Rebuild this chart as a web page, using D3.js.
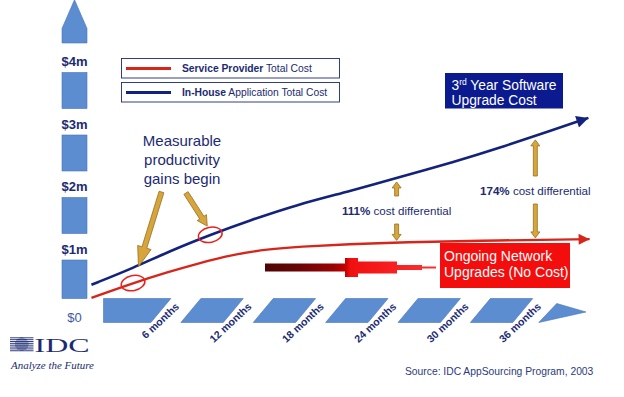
<!DOCTYPE html>
<html>
<head>
<meta charset="utf-8">
<script src="https://cdn.jsdelivr.net/npm/d3@7"></script>
<style>
  html, body { margin: 0; padding: 0; background: #fff; }
  svg { display: block; font-family: "Liberation Sans", Arial, sans-serif; }
</style>
</head>
<body>
<svg id="chart" width="624" height="397"></svg>
<script>
// ---- data ----
const monthTicks = [6, 12, 18, 24, 30, 36];
const costTicks = [0, 1, 2, 3, 4];
const costTickLabels = ["$0", "$1m", "$2m", "$3m", "$4m"];

// in-house application total cost ($m) by month
const inHouseMonths = [-1, 2.5, 5.5, 9, 12, 16, 20.5, 24.5, 29, 33, 37, 40.2];
const inHouseCost   = [0.42, 0.69, 0.96, 1.23, 1.44, 1.70, 1.92, 2.14, 2.38, 2.62, 2.88, 3.09];

// service provider total cost ($m) by month
const providerMonths = [-1, 2.5, 5.3, 8, 10.7, 13.6, 16.3, 20.4, 24.6, 32.9, 40.3];
const providerCost   = [0.21, 0.45, 0.62, 0.77, 0.90, 0.99, 1.03, 1.07, 1.10, 1.13, 1.15];

const legendNames = [["Service Provider", " Total Cost"], ["In-House", " Application Total Cost"]];
const diffMonths = [24.3, 35.8];
const diffLabels = ["111%", "174%"];
const gainMonths = [2.45, 8.85];   // circled points: provider, in-house

// ---- setup ----
const svg = d3.select("#chart");
const navy = "#1c2a72", blueLine = "#13237c", redLine = "#d6261c";
const axisFill = "#5b8dd0", axisStroke = "#4674b8";
const gold = "#d8a53c", goldDark = "#93701f";

const x = d3.scaleLinear().domain([0, 40]).range([103.5, 586]);
const y = d3.scaleLinear().domain([0, 4]).range([311, 61]);

const inHouse = inHouseMonths.map((m, i) => [m, inHouseCost[i]]);
const provider = providerMonths.map((m, i) => [m, providerCost[i]]);

function valueAt(series, m) {
  const i = d3.bisector(d => d[0]).right(series, m);
  const a = series[Math.max(0, i - 1)], b = series[Math.min(series.length - 1, i)];
  if (a === b) return a[1];
  return a[1] + (b[1] - a[1]) * (m - a[0]) / (b[0] - a[0]);
}

function blockArrow(x1, y1, x2, y2, sw, hw, hl) {
  const dx = x2 - x1, dy = y2 - y1, len = Math.hypot(dx, dy);
  const ux = dx / len, uy = dy / len, nx = -uy, ny = ux;
  const bx = x2 - ux * hl, by = y2 - uy * hl;
  return [
    [x1 + nx * sw, y1 + ny * sw], [bx + nx * sw, by + ny * sw], [bx + nx * hw, by + ny * hw],
    [x2, y2],
    [bx - nx * hw, by - ny * hw], [bx - nx * sw, by - ny * sw], [x1 - nx * sw, y1 - ny * sw]
  ];
}

const defs = svg.append("defs");
defs.append("marker").attr("id", "headBlue")
  .attr("viewBox", "0 0 10 10").attr("refX", 10).attr("refY", 5)
  .attr("markerUnits", "userSpaceOnUse").attr("markerWidth", 22).attr("markerHeight", 12)
  .attr("orient", "auto")
  .append("path").attr("d", "M0,0L10,5L0,10Z").attr("fill", blueLine);
defs.append("marker").attr("id", "headRed")
  .attr("viewBox", "0 0 10 10").attr("refX", 10).attr("refY", 5)
  .attr("markerUnits", "userSpaceOnUse").attr("markerWidth", 15).attr("markerHeight", 11)
  .attr("orient", "auto")
  .append("path").attr("d", "M0,0L10,5L0,10Z").attr("fill", redLine);
const grad = defs.append("linearGradient").attr("id", "fade")
  .attr("x1", 0).attr("x2", 1).attr("y1", 0).attr("y2", 0);
[[0, "#4e0505"], [0.2, "#6a0404"], [0.4, "#9a0202"], [0.47, "#c40000"], [0.5, "#f01010"], [1, "#ff3030"]]
  .forEach(([o, c]) => grad.append("stop").attr("offset", o).attr("stop-color", c));

// ---- y axis column ----
const colX0 = 62, colX1 = 87, barTop = 298.5, barBot = 322.5;
const yAxis = svg.append("g");
costTicks.slice(0, -1).forEach(v => {
  const top = y(v + 1) + 11.5, bot = v === 0 ? barTop : y(v) - 15;
  yAxis.append("rect").attr("x", colX0).attr("y", top).attr("width", colX1 - colX0)
    .attr("height", bot - top).attr("fill", axisFill).attr("stroke", axisStroke).attr("stroke-width", 0.6);
});
{
  const top = y(4.98), neck = y(4.52), bot = y(4) - 18;
  yAxis.append("path")
    .attr("d", `M${colX0},${bot}L${colX0},${neck}L${(colX0 + colX1) / 2},${top}L${colX1},${neck}L${colX1},${bot}Z`)
    .attr("fill", axisFill).attr("stroke", axisStroke).attr("stroke-width", 0.6);
}
yAxis.selectAll("text.ytick").data(costTicks).join("text")
  .attr("x", (colX0 + colX1) / 2)
  .attr("y", d => d === 0 ? y(d) + 11 : y(d) + 5)
  .attr("text-anchor", "middle")
  .attr("font-size", 13)
  .attr("font-weight", d => d === 0 ? "normal" : "bold")
  .attr("fill", d => d === 0 ? "#3d5aa6" : navy)
  .text((d, i) => costTickLabels[i]);

// ---- x axis segments ----
const gapHalf = 15, slant = 10;
const xAxis = svg.append("g");
const edges = [0].concat(monthTicks);
edges.slice(0, -1).forEach((m0, i) => {
  const m1 = edges[i + 1];
  const r = x(m1) - gapHalf;
  let pts;
  if (i === 0) {
    pts = [[x(m0), barTop], [r + slant, barTop], [r - slant, barBot], [x(m0), barBot]];
  } else {
    const l = x(m0) + gapHalf;
    pts = [[l + slant, barTop], [r + slant, barTop], [r - slant, barBot], [l - slant, barBot]];
  }
  xAxis.append("path").attr("d", "M" + pts.join("L") + "Z")
    .attr("fill", axisFill).attr("stroke", axisStroke).attr("stroke-width", 0.6);
});
{
  const a = x(36) + gapHalf;
  const pts = [[a - 14, barBot], [a + 4, barTop + 5], [x(40), barTop + 13.5]];
  xAxis.append("path").attr("d", "M" + pts.join("L") + "Z")
    .attr("fill", axisFill).attr("stroke", axisStroke).attr("stroke-width", 0.6);
}
xAxis.selectAll("text.xtick").data(monthTicks).join("text")
  .attr("transform", d => `translate(${x(d) + 4},${barTop + 9}) rotate(-43)`)
  .attr("text-anchor", "end")
  .attr("font-size", 10.5)
  .attr("font-weight", "bold")
  .attr("fill", navy)
  .text(d => d + " months");

// ---- cost lines ----
const line = d3.line().x(d => x(d[0])).y(d => y(d[1])).curve(d3.curveBasis);
svg.append("path").datum(inHouse).attr("d", line)
  .attr("fill", "none").attr("stroke", blueLine).attr("stroke-width", 2.6)
  .attr("marker-end", "url(#headBlue)");
svg.append("path").datum(provider).attr("d", line)
  .attr("fill", "none").attr("stroke", redLine).attr("stroke-width", 2.4)
  .attr("marker-end", "url(#headRed)");

// circled productivity points
[provider, inHouse].forEach((s, i) => {
  const m = gainMonths[i];
  svg.append("ellipse")
    .attr("transform", `translate(${x(m)},${y(valueAt(s, m))}) rotate(-12)`)
    .attr("rx", 12).attr("ry", 7.5)
    .attr("fill", "none").attr("stroke", "#e8221c").attr("stroke-width", 1.5);
});

// ---- legend ----
const legend = svg.append("g");
legendNames.forEach((nm, i) => {
  const top = 58.5 + i * 24;
  legend.append("rect").attr("x", 121.5).attr("y", top).attr("width", 218).attr("height", 19.5)
    .attr("fill", "#fff").attr("stroke", navy).attr("stroke-width", 0.9);
  legend.append("line").attr("x1", 126).attr("x2", 171).attr("y1", top + 10).attr("y2", top + 10)
    .attr("stroke", i === 0 ? redLine : blueLine).attr("stroke-width", 3);
  const t = legend.append("text").attr("x", 182).attr("y", top + 13.5)
    .attr("font-size", 10.3).attr("fill", navy);
  t.append("tspan").attr("font-weight", "bold").text(nm[0]);
  t.append("tspan").text(nm[1]);
});

// ---- "3rd Year Software Upgrade Cost" box ----
svg.append("rect").attr("x", 445).attr("y", 73).attr("width", 118).attr("height", 35.5).attr("fill", "#0b1a8e");
{
  const t = svg.append("text").attr("x", 451.5).attr("y", 90).attr("font-size", 13.8).attr("fill", "#fff");
  t.append("tspan").text("3");
  t.append("tspan").attr("font-size", 8.5).attr("dy", -5).text("rd");
  t.append("tspan").attr("dy", 5).text(" Year Software");
  svg.append("text").attr("x", 451.5).attr("y", 104.5).attr("font-size", 13.8).attr("fill", "#fff").text("Upgrade Cost");
}

// ---- "Measurable productivity gains begin" ----
svg.append("g").selectAll("text").data(["Measurable", "productivity", "gains begin"]).join("text")
  .attr("x", 182).attr("y", (d, i) => 145.5 + i * 19)
  .attr("text-anchor", "middle").attr("font-size", 15).attr("fill", navy).text(d => d);
{
  const m1 = 2.9, m2 = gainMonths[1] - 0.25;
  const a1 = blockArrow(161.5, 192, x(m1), y(valueAt(inHouse, m1)) + 1, 2.5, 7, 20);
  const a2 = blockArrow(186, 193, x(m2), y(valueAt(inHouse, m2)) - 10, 2.5, 5.5, 10);
  [a1, a2].forEach(p => svg.append("path").attr("d", "M" + p.join("L") + "Z")
    .attr("fill", gold).attr("stroke", goldDark).attr("stroke-width", 0.8));
}

// ---- cost differentials ----
const diffTextY = [215, 195];
diffMonths.forEach((m, i) => {
  const cx = x(m), yb = y(valueAt(inHouse, m)), yr = y(valueAt(provider, m));
  const ty = diffTextY[i];
  const up = blockArrow(cx, ty - 19, cx, yb + 4, 2, 4.5, 6);
  const down = blockArrow(cx, ty + 9, cx, yr - 2, 2, 4.5, 6);
  [up, down].forEach(p => svg.append("path").attr("d", "M" + p.join("L") + "Z")
    .attr("fill", gold).attr("stroke", goldDark).attr("stroke-width", 0.8));
  const t = svg.append("text").attr("x", cx).attr("y", ty).attr("text-anchor", "middle")
    .attr("font-size", 11.6).attr("fill", navy);
  t.append("tspan").attr("font-weight", "bold").text(diffLabels[i]);
  t.append("tspan").text(" cost differential");
});

// ---- ongoing network upgrades ----
{
  const cy = 267.5;
  const shape = [
    [265, cy - 4], [345, cy - 4], [345, cy - 9.5], [358, cy - 9.5], [358, cy - 6], [397, cy - 6],
    [397, cy - 2.5], [422, cy - 2.5], [422, cy - 1], [436, cy - 1],
    [436, cy + 1], [422, cy + 1], [422, cy + 2.5], [397, cy + 2.5], [397, cy + 6], [358, cy + 6],
    [358, cy + 9.5], [345, cy + 9.5], [345, cy + 4], [265, cy + 4]
  ];
  svg.append("path").attr("d", "M" + shape.join("L") + "Z").attr("fill", "url(#fade)");
  svg.append("rect").attr("x", 440).attr("y", 243).attr("width", 130).attr("height", 45).attr("fill", "#f40d0d");
  svg.append("g").selectAll("text").data(["Ongoing Network", "Upgrades (No Cost)"]).join("text")
    .attr("x", 444).attr("y", (d, i) => 261 + i * 16)
    .attr("font-size", 14).attr("fill", "#fff").text(d => d);
}

// ---- IDC logo and source ----
{
  const logo = svg.append("g");
  const gx = 21.7, gy = 344.3, gr = 6.7;
  for (let i = 0; i < 8; i++) {
    const ly = 337.8 + i * 1.85;
    logo.append("line").attr("x1", 10).attr("x2", 33.5).attr("y1", ly).attr("y2", ly)
      .attr("stroke", navy).attr("stroke-width", 0.9);
  }
  logo.append("circle").attr("cx", gx).attr("cy", gy).attr("r", gr).attr("fill", navy);
  for (let i = 0; i < 7; i++) {
    const ly = 338.7 + i * 1.85, d = Math.abs(ly - gy);
    if (d >= gr) continue;
    const hw = Math.sqrt(gr * gr - d * d);
    logo.append("line").attr("x1", gx - hw).attr("x2", gx + hw).attr("y1", ly).attr("y2", ly)
      .attr("stroke", "#fff").attr("stroke-width", 0.6);
  }
  logo.append("text").attr("x", 34.5).attr("y", 351.5)
    .attr("font-family", "'Liberation Serif', 'DejaVu Serif', serif")
    .attr("font-size", 19.5).attr("textLength", 55).attr("lengthAdjust", "spacingAndGlyphs")
    .attr("fill", navy).text("IDC");
  logo.append("text").attr("x", 11).attr("y", 368.5)
    .attr("font-family", "'Liberation Serif', 'DejaVu Serif', serif")
    .attr("font-style", "italic").attr("font-size", 10.5)
    .attr("textLength", 83).attr("lengthAdjust", "spacingAndGlyphs")
    .attr("fill", navy).text("Analyze the Future");
}
svg.append("text").attr("x", 405).attr("y", 375).attr("font-size", 10.3).attr("fill", "#2b3a80")
  .text("Source: IDC AppSourcing Program, 2003");
</script>
</body>
</html>
